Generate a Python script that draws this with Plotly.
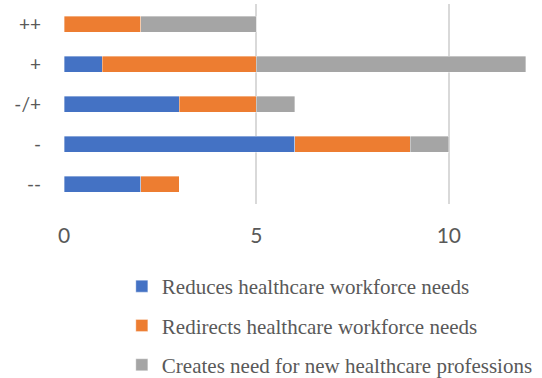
import plotly.graph_objects as go

# Impact categories, bottom to top
categories = ["--", "-", "-/+", "+", "++"]

# Counts per category for each workforce effect
reduces = [2, 6, 3, 1, 0]
redirects = [1, 3, 2, 4, 2]
creates = [0, 1, 1, 7, 3]

series_names = [
    "Reduces healthcare workforce needs",
    "Redirects healthcare workforce needs",
    "Creates need for new healthcare professions",
]
series_colors = ["#4472C4", "#ED7D31", "#A5A5A5"]
x_ticks = [0, 5, 10]

fig = go.Figure()
for i, (name, vals, color) in enumerate(zip(series_names, [reduces, redirects, creates], series_colors)):
    fig.add_trace(go.Bar(
        y=categories,
        x=vals,
        name=name,
        orientation="h",
        marker=dict(color=color, line=dict(color="rgba(255,255,255,0.6)", width=0.6)),
        legendgroup=f"g{i}",
    ))

fig.update_layout(
    width=542,
    height=378,
    barmode="stack",
    bargap=0.6,
    plot_bgcolor="white",
    paper_bgcolor="white",
    margin=dict(l=64, r=0, t=4, b=174, autoexpand=False),
    showlegend=True,
    legend=dict(
        orientation="v",
        x=0.121,
        y=-0.31,
        xanchor="left",
        yanchor="top",
        traceorder="grouped",
        tracegroupgap=9,
        itemwidth=30,
        font=dict(family="Liberation Serif", size=21, color="#595959"),
        bgcolor="rgba(0,0,0,0)",
    ),
)

fig.update_xaxes(
    range=[0, 12.42],
    tickvals=x_ticks,
    showgrid=True,
    gridcolor="#D9D9D9",
    gridwidth=1.5,
    zeroline=False,
    showline=False,
    ticks="",
    ticklabelstandoff=17,
    tickfont=dict(family="Lato", size=21, color="#595959"),
)
fig.update_yaxes(
    categoryorder="array",
    categoryarray=categories,
    showgrid=False,
    zeroline=False,
    showline=False,
    ticks="",
    ticklabelstandoff=22,
    tickfont=dict(family="Lato", size=19, color="#595959"),
)

fig.write_html("out.html")
